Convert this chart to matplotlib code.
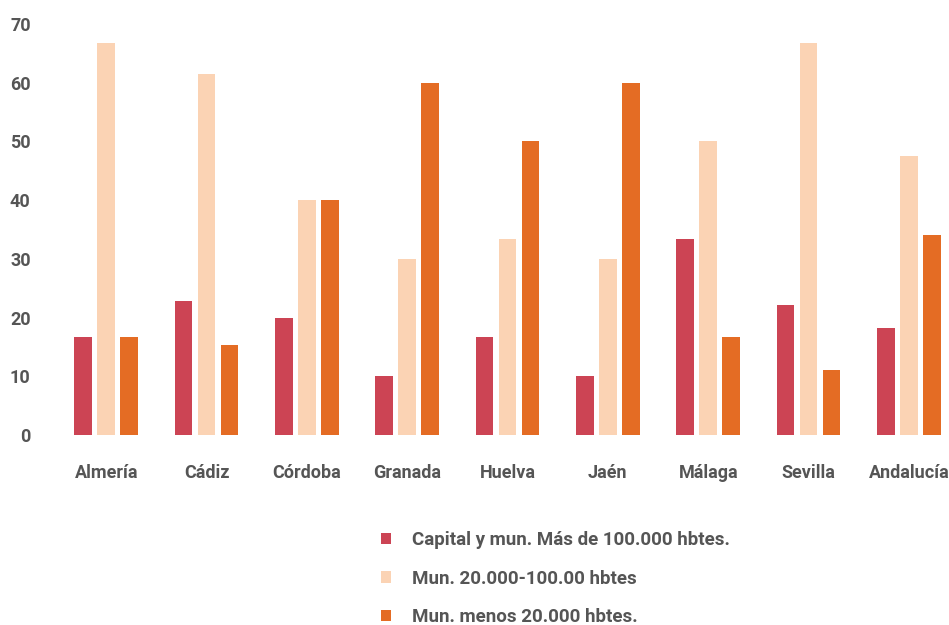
import matplotlib
matplotlib.use("Agg")
import matplotlib.pyplot as plt
import numpy as np

provincias = ["Almería", "Cádiz", "Córdoba", "Granada", "Huelva", "Jaén",
              "Málaga", "Sevilla", "Andalucía"]
capital = [16.7, 22.9, 20.0, 10.0, 16.7, 10.0, 33.3, 22.2, 18.2]
mun_medio = [66.7, 61.5, 40.0, 30.0, 33.3, 30.0, 50.0, 66.7, 47.6]
mun_menos = [16.7, 15.4, 40.0, 60.0, 50.0, 60.0, 16.7, 11.1, 34.0]

series_labels = ["Capital y mun. Más de 100.000 hbtes.",
                 "Mun. 20.000-100.00 hbtes",
                 "Mun. menos 20.000 hbtes."]
colores = ["#CC4454", "#FBD3B4", "#E46C24"]

plt.rcParams['font.family'] = ['Roboto', 'DejaVu Sans']
gris = "#555555"

fig = plt.figure(figsize=(9.49, 6.25), dpi=100)
W, H = 949, 625
# axes placement in pixels
left, right, top, bottom = 46, 949, 24, 435
ax = fig.add_axes([left / W, 1 - bottom / H, (right - left) / W, (bottom - top) / H])

x = np.arange(len(provincias))
ancho = 0.175
paso = 0.23
for i, (vals, lab, c) in enumerate(zip([capital, mun_medio, mun_menos], series_labels, colores)):
    ax.bar(x + (i - 1) * paso, vals, width=ancho, color=c, label=lab)

ax.set_xlim(-0.6, 8.4)
ax.set_ylim(0, 70)
ax.set_yticks(range(0, 71, 10))
ax.set_xticks(x)
ax.set_xticklabels(provincias)
for s in ax.spines.values():
    s.set_visible(False)
ax.tick_params(axis='both', length=0, colors=gris, labelsize=13)
ax.tick_params(axis='y', pad=11)
ax.tick_params(axis='x', pad=21)
for t in ax.get_xticklabels() + ax.get_yticklabels():
    t.set_fontweight('bold')

leg = fig.legend(loc='upper left', bbox_to_anchor=(364 / W, 1 - 514 / H),
                 frameon=False, fontsize=13.5, handlelength=0.55, handleheight=0.55,
                 handletextpad=1.1, labelspacing=1.1)
for t in leg.get_texts():
    t.set_color(gris)
    t.set_fontweight('bold')

fig.savefig("out.png", dpi=100)
